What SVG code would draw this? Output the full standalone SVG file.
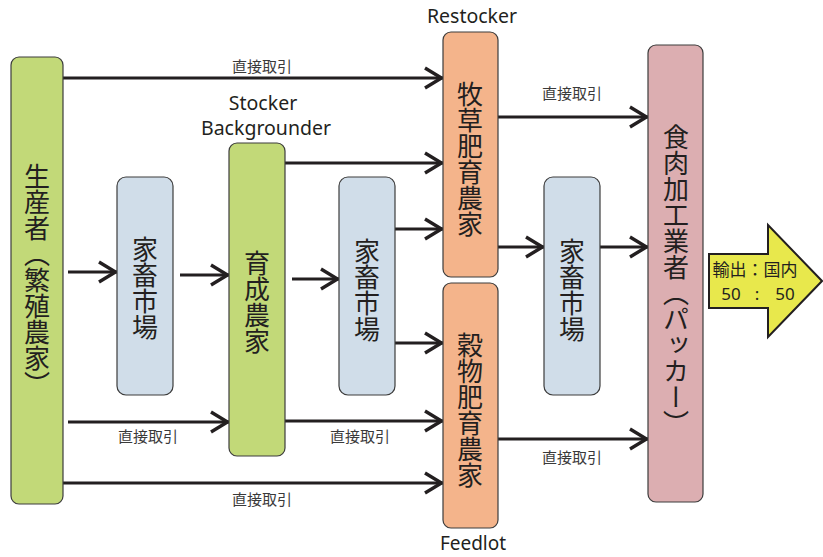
<svg xmlns="http://www.w3.org/2000/svg" width="823" height="557" viewBox="0 0 823 557">
<defs>
<style>
.box{stroke:#3c3c3c;stroke-width:1.2}
.green{fill:#c2d978}
.blue{fill:#d0dde9}
.orange{fill:#f4b48b}
.pink{fill:#dcaeb1}
.vt{font-family:"Noto Sans CJK JP","Noto Sans",sans-serif;font-size:26px;fill:#231f20;writing-mode:vertical-rl;text-anchor:middle}
.lbl{font-family:"Noto Sans CJK JP","Noto Sans",sans-serif;font-size:15px;fill:#3a3a3a;text-anchor:middle}
.en{font-family:"Noto Sans","Open Sans",sans-serif;font-size:19.5px;fill:#231f20;text-anchor:middle}
.ln{stroke:#231f20;stroke-width:3.2;fill:none;marker-end:url(#ah)}
</style>
<marker id="ah" markerUnits="userSpaceOnUse" markerWidth="30" markerHeight="30" viewBox="-24 -15 30 30" refX="0" refY="0" orient="auto" overflow="visible">
<path d="M-18,-10 L-1.5,0 L-18,10" fill="none" stroke="#231f20" stroke-width="3.4"/>
</marker>
</defs>
<rect width="823" height="557" fill="#ffffff"/>

<g id="connectors">
<line class="ln" x1="63" y1="78" x2="443" y2="78"/>
<line class="ln" x1="68" y1="272" x2="117" y2="272"/>
<line class="ln" x1="180" y1="275" x2="229" y2="275"/>
<line class="ln" x1="292" y1="279" x2="339" y2="279"/>
<line class="ln" x1="285" y1="163" x2="443" y2="163"/>
<line class="ln" x1="395" y1="229" x2="443" y2="229"/>
<line class="ln" x1="395" y1="343" x2="443" y2="343"/>
<line class="ln" x1="68" y1="422" x2="229" y2="422"/>
<line class="ln" x1="285" y1="421" x2="443" y2="421"/>
<line class="ln" x1="63" y1="483" x2="443" y2="483"/>
<line class="ln" x1="498" y1="117" x2="648" y2="117"/>
<line class="ln" x1="498" y1="247" x2="544" y2="247"/>
<line class="ln" x1="600" y1="247" x2="648" y2="247"/>
<line class="ln" x1="498" y1="439" x2="648" y2="439"/>
<text class="lbl" x="262" y="72">直接取引</text>
<text class="lbl" x="572" y="99">直接取引</text>
<text class="lbl" x="148" y="442">直接取引</text>
<text class="lbl" x="360" y="442">直接取引</text>
<text class="lbl" x="262" y="505">直接取引</text>
<text class="lbl" x="572" y="463">直接取引</text>
</g>

<g id="producer">
<rect class="box green" x="11" y="57" width="52" height="447" rx="8"/>
<text class="vt" x="37" y="280">生産者（繁殖農家）</text>
</g>

<g id="market1">
<rect class="box blue" x="117" y="177" width="56" height="218" rx="9"/>
<text class="vt" x="145" y="288">家畜市場</text>
</g>

<g id="stocker">
<rect class="box green" x="229" y="143" width="56" height="313" rx="8"/>
<text class="vt" x="257" y="302">育成農家</text>
<text class="en" x="263" y="110">Stocker</text>
<text class="en" x="266" y="135">Backgrounder</text>
</g>

<g id="market2">
<rect class="box blue" x="339" y="177" width="56" height="218" rx="9"/>
<text class="vt" x="367" y="290">家畜市場</text>
</g>

<g id="restocker">
<rect class="box orange" x="443" y="32" width="55" height="245" rx="8"/>
<text class="vt" x="470" y="159">牧草肥育農家</text>
<text class="en" x="472" y="23">Restocker</text>
</g>

<g id="feedlot">
<rect class="box orange" x="443" y="283" width="55" height="245" rx="8"/>
<text class="vt" x="470" y="410">穀物肥育農家</text>
<text class="en" x="473" y="550" style="font-size:19px">Feedlot</text>
</g>

<g id="market3">
<rect class="box blue" x="544" y="177" width="56" height="218" rx="9"/>
<text class="vt" x="572" y="290">家畜市場</text>
</g>

<g id="packer">
<rect class="box pink" x="648" y="45" width="55" height="457" rx="8"/>
<text class="vt" x="676" y="280">食肉加工業者（パッカー）</text>
</g>

<g id="export">
<polygon points="709,254 768,254 768,225 822,281 768,337 768,308 709,308" fill="#e8e84c" stroke="#231f20" stroke-width="2"/>
<text x="755" y="276" font-family="'Noto Sans CJK JP','Noto Sans',sans-serif" font-size="17" fill="#231f20" text-anchor="middle">輸出：国内</text>
<text y="300" font-family="'Noto Sans','Noto Sans CJK JP',sans-serif" font-size="17" fill="#231f20" text-anchor="middle"><tspan x="731">50</tspan><tspan x="757">:</tspan><tspan x="785">50</tspan></text>
</g>
</svg>
